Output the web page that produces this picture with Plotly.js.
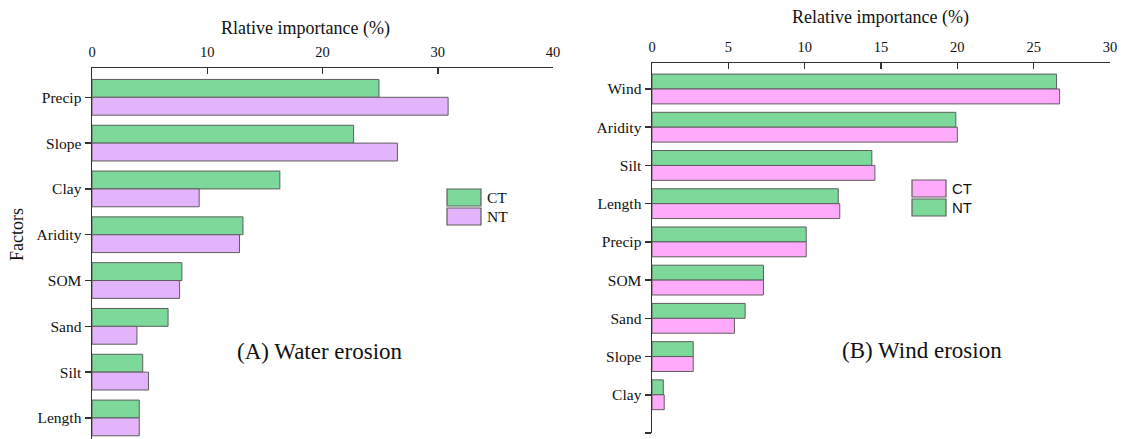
<!DOCTYPE html>
<html>
<head>
<meta charset="utf-8">
<script src="https://cdn.plot.ly/plotly-3.0.1.min.js"></script>
<style>
  html, body { margin: 0; padding: 0; background: #fff; }
  #chart { width: 1121px; height: 439px; }
</style>
</head>
<body>
<div id="chart"></div>
<script>
// (A) Water erosion: relative importance of factors (%)
const waterFactors = ["Precip", "Slope", "Clay", "Aridity", "SOM", "Sand", "Silt", "Length"];
const waterCT = [24.9, 22.7, 16.3, 13.1, 7.8, 6.6, 4.4, 4.1];
const waterNT = [30.9, 26.5, 9.3, 12.8, 7.6, 3.9, 4.9, 4.1];

// (B) Wind erosion: relative importance of factors (%)
const windFactors = ["Wind", "Aridity", "Silt", "Length", "Precip", "SOM", "Sand", "Slope", "Clay"];
const windNT = [26.5, 19.9, 14.4, 12.2, 10.1, 7.3, 6.1, 2.7, 0.74];
const windCT = [26.7, 20.0, 14.6, 12.3, 10.1, 7.3, 5.4, 2.7, 0.8];

const waterTicks = [0, 10, 20, 30, 40];
const windTicks = [0, 5, 10, 15, 20, 25, 30];

const GREEN = "#7dd99a";
const LILAC = "#e3b3fc";
const PINK = "#ffaafa";
const OUTLINE = "#5e5e5e";
const AXIS = "#333333";
const SERIF = "Liberation Serif";
const SANS = "Liberation Sans";
const INK = "#111111";

const W = 1121, H = 439;
const px = v => v / W;
const py = v => 1 - v / H;

const waterPos = waterFactors.map((_, i) => i);
const windPos = windFactors.map((_, i) => i);

function barTrace(name, x, y, color, xa, ya) {
  return {
    type: "bar", orientation: "h", name: name,
    x: x, y: y, xaxis: xa, yaxis: ya,
    marker: { color: color, line: { color: OUTLINE, width: 1 } },
    showlegend: false, hoverinfo: "x+name"
  };
}

const data = [
  barTrace("CT", waterCT, waterPos, GREEN, "x", "y"),
  barTrace("NT", waterNT, waterPos, LILAC, "x", "y"),
  barTrace("NT", windNT, windPos, GREEN, "x2", "y2"),
  barTrace("CT", windCT, windPos, PINK, "x2", "y2")
];

const xCommon = {
  side: "top", ticks: "inside", ticklen: 6, tickwidth: 1.5, tickcolor: AXIS,
  showline: true, linecolor: AXIS, linewidth: 1.5, showgrid: false, zeroline: false,
  tickfont: { family: SERIF, size: 14.5, color: INK },
  ticklabelstandoff: 4
};
const yCommon = {
  ticks: "outside", ticklen: 6, tickwidth: 1.5, tickcolor: AXIS,
  showline: true, linecolor: AXIS, linewidth: 1.5, showgrid: false, zeroline: false,
  tickfont: { family: SERIF, size: 15.5, color: INK }
};

// legend swatches and labels
function swatch(x0, y0, color) {
  return { type: "rect", xref: "paper", yref: "paper",
    x0: px(x0), x1: px(x0 + 34), y0: py(y0), y1: py(y0 + 17),
    fillcolor: color, line: { color: OUTLINE, width: 1.2 } };
}
function label(x, y, text, family, size, anchor, angle) {
  return { xref: "paper", yref: "paper", x: px(x), y: py(y),
    xanchor: anchor || "center", yanchor: "middle", textangle: angle || 0,
    text: text, showarrow: false, font: { family: family, size: size, color: INK } };
}

const layout = {
  width: W, height: H,
  margin: { l: 0, r: 0, t: 0, b: 0 },
  paper_bgcolor: "#fff", plot_bgcolor: "#fff",
  font: { family: SERIF },
  barmode: "group", bargap: 0.22, bargroupgap: 0,
  showlegend: false,
  xaxis: Object.assign({}, xCommon, {
    domain: [px(92), px(553)], range: [0, 40], tickvals: waterTicks, anchor: "y"
  }),
  yaxis: Object.assign({}, yCommon, {
    domain: [0, py(68)], range: [7.46, -0.64], anchor: "x",
    tickvals: waterPos, ticktext: waterFactors
  }),
  xaxis2: Object.assign({}, xCommon, {
    domain: [px(652), px(1110)], range: [0, 30], tickvals: windTicks, anchor: "y2"
  }),
  yaxis2: Object.assign({}, yCommon, {
    domain: [py(433), py(63)], range: [windFactors.length, -0.68], anchor: "x2",
    tickvals: windPos.concat([windFactors.length]), ticktext: windFactors.concat([""])
  }),
  shapes: [
    swatch(447, 189, GREEN), swatch(447, 208, LILAC),
    swatch(912, 180, PINK), swatch(912, 199, GREEN)
  ],
  annotations: [
    label(305, 28, "Rlative importance (%)", SERIF, 18),
    label(880, 18, "Relative importance (%)", SERIF, 18),
    label(17, 235, "Factors", SERIF, 18, "center", -90),
    label(485, 197.5, "CT", SERIF, 15.5, "left"), label(485, 216.5, "NT", SERIF, 15.5, "left"),
    label(950, 188.5, "CT", SANS, 15, "left"), label(950, 207.5, "NT", SANS, 15, "left"),
    label(320, 351, "(A) Water erosion", SERIF, 23),
    label(922, 350, "(B) Wind erosion", SERIF, 23)
  ]
};

Plotly.newPlot("chart", data, layout, { staticPlot: true, displayModeBar: false });
</script>
</body>
</html>
